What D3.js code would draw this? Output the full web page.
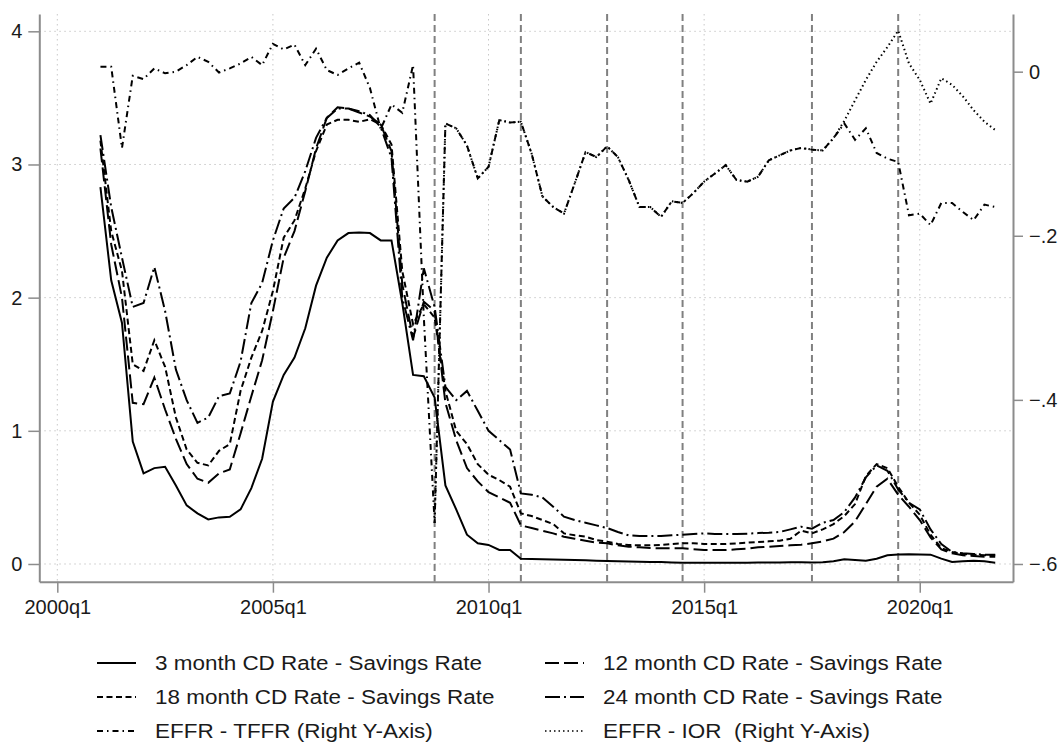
<!DOCTYPE html>
<html>
<head>
  <meta charset="UTF-8">
  <title></title>
  <style>
    body{
      margin: 0;
      background: #fff;
      font-family: 'Liberation Sans', Arial, sans-serif;
    }
    .grid line{
      stroke: #c8c8c8;
      stroke-width: 1;
      stroke-dasharray: 1.5,3.5;
    }
    .refline{
      stroke: #808080;
      stroke-width: 2;
      stroke-dasharray: 7,4;
    }
    .axis path{ stroke: #8c8c8c; stroke-width: 2; }
    .axis line{ stroke: #8c8c8c; stroke-width: 1.5; }
    .axis text{ font-size: 20px; fill: #1a1a1a; font-family: 'Liberation Sans', Arial, sans-serif; }
    .series{ fill: none; stroke: #000; stroke-width: 2; }
    .legend text{ font-size: 21px; fill: #1a1a1a; white-space: pre; }
  </style>
</head>
<body>
  <script src="https://cdnjs.cloudflare.com/ajax/libs/d3/7.8.5/d3.min.js"></script>
  <script>
/// data (quarterly, index 0 = 2000q1; CD series start 2001q1)

var firstQ = 4;
var iorFirstQ = 35;

var cd3m = [2.83, 2.13, 1.81, 0.92, 0.68, 0.72, 0.73, 0.59, 0.44, 0.38,
  0.335, 0.35, 0.355, 0.41, 0.57, 0.79, 1.22, 1.42, 1.55, 1.77,
  2.09, 2.3, 2.43, 2.485, 2.49, 2.485, 2.43, 2.43, 1.96, 1.42,
  1.41, 1.25, 0.59, 0.41, 0.22, 0.155, 0.143, 0.105, 0.105, 0.04,
  0.038, 0.036, 0.034, 0.032, 0.03, 0.028, 0.025, 0.022, 0.02, 0.018,
  0.016, 0.015, 0.014, 0.012, 0.01, 0.01, 0.01, 0.01, 0.01, 0.01,
  0.01, 0.012, 0.012, 0.012, 0.013, 0.013, 0.012, 0.013, 0.02, 0.035,
  0.03, 0.025, 0.04, 0.065, 0.072, 0.073, 0.072, 0.07, 0.04, 0.015,
  0.02, 0.025, 0.02, 0.01];

var cd12m = [3.12, 2.4, 2.0, 1.21, 1.2, 1.4, 1.16, 0.94, 0.75, 0.64,
  0.61, 0.68, 0.71, 0.98, 1.26, 1.53, 1.9, 2.3, 2.5, 2.8,
  3.12, 3.35, 3.43, 3.42, 3.39, 3.36, 3.3, 3.1, 2.1, 1.7,
  1.97, 1.9, 1.21, 0.93, 0.72, 0.62, 0.54, 0.5, 0.46, 0.29,
  0.27, 0.25, 0.23, 0.205, 0.19, 0.175, 0.16, 0.155, 0.14, 0.13,
  0.125, 0.12, 0.118, 0.118, 0.118, 0.11, 0.105, 0.105, 0.105, 0.11,
  0.115, 0.125, 0.13, 0.135, 0.14, 0.145, 0.155, 0.17, 0.19, 0.24,
  0.32, 0.45, 0.58, 0.64, 0.52, 0.43, 0.33, 0.2, 0.11, 0.08,
  0.066, 0.06, 0.055, 0.055];

var cd18m = [3.18, 2.5, 2.2, 1.5, 1.45, 1.68, 1.48, 1.1, 0.86, 0.76,
  0.74, 0.85, 0.9, 1.3, 1.55, 1.75, 2.05, 2.45, 2.58, 2.82,
  3.1, 3.3, 3.335, 3.335, 3.32, 3.34, 3.3, 3.15, 2.2, 1.8,
  1.95, 1.85, 1.3, 1.0, 0.9, 0.75, 0.67, 0.63, 0.58, 0.38,
  0.36, 0.33, 0.3, 0.23, 0.215, 0.205, 0.18, 0.168, 0.15, 0.143,
  0.14, 0.14, 0.143, 0.15, 0.155, 0.155, 0.15, 0.15, 0.15, 0.155,
  0.16, 0.165, 0.17, 0.175, 0.19, 0.25, 0.23, 0.26, 0.3, 0.36,
  0.45, 0.66, 0.75, 0.72, 0.58, 0.46, 0.37, 0.22, 0.12, 0.09,
  0.075, 0.07, 0.065, 0.065];

var cd24m = [3.22, 2.68, 2.3, 1.93, 1.96, 2.23, 1.9, 1.46, 1.23, 1.06,
  1.1, 1.26, 1.28, 1.52, 1.96, 2.11, 2.43, 2.67, 2.75, 2.95,
  3.2, 3.35, 3.42, 3.42, 3.4, 3.37, 3.28, 3.05, 2.0, 1.68,
  2.22, 1.93, 1.33, 1.23, 1.3, 1.15, 1.0, 0.93, 0.86, 0.53,
  0.52, 0.5, 0.43, 0.355, 0.33, 0.31, 0.29, 0.27, 0.24, 0.215,
  0.21, 0.21, 0.21, 0.215, 0.22, 0.225, 0.23, 0.225, 0.225, 0.225,
  0.228, 0.232, 0.235, 0.24, 0.26, 0.28, 0.265, 0.31, 0.33, 0.39,
  0.5, 0.65, 0.74, 0.7, 0.56, 0.46, 0.41, 0.26, 0.15, 0.09,
  0.08, 0.075, 0.07, 0.07];

// right axis series
var effrTffr = [0.006, 0.006, -0.093, -0.005, -0.009, 0.004, -0.002, 0.0, 0.008, 0.018,
  0.012, -0.001, 0.004, 0.010, 0.018, 0.008, 0.034, 0.027, 0.033, 0.008,
  0.028, 0.002, -0.004, 0.004, 0.011, -0.02, -0.07, -0.04, -0.05, 0.008,
  -0.3, -0.55, -0.063, -0.069, -0.09, -0.13, -0.116, -0.059, -0.062, -0.061,
  -0.1, -0.152, -0.165, -0.173, -0.136, -0.098, -0.104, -0.091, -0.104, -0.132,
  -0.165, -0.165, -0.177, -0.158, -0.16, -0.148, -0.134, -0.124, -0.114, -0.132,
  -0.134, -0.128, -0.108, -0.102, -0.096, -0.093, -0.095, -0.096, -0.081, -0.063,
  -0.083, -0.069, -0.099, -0.106, -0.110, -0.175, -0.173, -0.187, -0.16, -0.16,
  -0.171, -0.181, -0.162, -0.165];

var effrIor = [-0.55, -0.063, -0.069, -0.09, -0.13, -0.116, -0.059, -0.062, -0.061,
  -0.1, -0.152, -0.165, -0.173, -0.136, -0.098, -0.104, -0.091, -0.104, -0.132,
  -0.165, -0.165, -0.177, -0.158, -0.16, -0.148, -0.134, -0.124, -0.114, -0.132,
  -0.134, -0.128, -0.108, -0.102, -0.096, -0.093, -0.095, -0.096, -0.081, -0.06,
  -0.035, -0.01, 0.012, 0.03, 0.05, 0.01, -0.01, -0.039, -0.008, -0.016,
  -0.03, -0.047, -0.061, -0.071];

// vertical reference lines (quarter index)
var refQuarters = [35, 43, 51, 58, 70, 78];

var xTicks = [0, 20, 40, 60, 80];
var xTickLabels = ["2000q1", "2005q1", "2010q1", "2015q1", "2020q1"];
var leftTicks = [0, 1, 2, 3, 4];
var rightTicks = [0, -0.2, -0.4, -0.6];

var legendItems = [
  {label: "3 month CD Rate - Savings Rate", dash: null},
  {label: "12 month CD Rate - Savings Rate", dash: "14,5"},
  {label: "18 month CD Rate - Savings Rate", dash: "6,3.5"},
  {label: "24 month CD Rate - Savings Rate", dash: "15,4,2,4"},
  {label: "EFFR - TFFR (Right Y-Axis)", dash: "6,4,1.5,4"},
  {label: "EFFR - IOR  (Right Y-Axis)", dash: "1.5,3"}
];

/// main

var width = 1058, height = 743;
var plot = {left: 39.3, right: 1013, top: 14, bottom: 581.7};

var svg = d3.select("body").append("svg")
    .attr("width", width)
    .attr("height", height);

var x = d3.scaleLinear().domain([-1.67, 88.65]).range([plot.left, plot.right]);
var yL = d3.scaleLinear().domain([-0.133, 4.13]).range([plot.bottom, plot.top]);
var yR = d3.scaleLinear().domain([-0.6216, 0.0703]).range([plot.bottom, plot.top]);

// grid
var grid = svg.append("g").attr("class", "grid");
grid.selectAll(".h").data(leftTicks).enter().append("line")
    .attr("x1", plot.left).attr("x2", plot.right)
    .attr("y1", d => yL(d)).attr("y2", d => yL(d));
grid.selectAll(".v").data(xTicks).enter().append("line")
    .attr("x1", d => x(d)).attr("x2", d => x(d))
    .attr("y1", plot.top).attr("y2", plot.bottom);

// reference lines
svg.append("g").selectAll("line").data(refQuarters).enter().append("line")
    .attr("class", "refline")
    .attr("x1", d => x(d)).attr("x2", d => x(d))
    .attr("y1", plot.top).attr("y2", plot.bottom);

// series
function pts(arr, start) { return arr.map((v, i) => [start + i, v]); }

var lineL = d3.line().x(d => x(d[0])).y(d => yL(d[1]));
var lineR = d3.line().x(d => x(d[0])).y(d => yR(d[1]));

var series = [
  {data: pts(cd3m, firstQ), line: lineL, item: legendItems[0]},
  {data: pts(cd12m, firstQ), line: lineL, item: legendItems[1]},
  {data: pts(cd18m, firstQ), line: lineL, item: legendItems[2]},
  {data: pts(cd24m, firstQ), line: lineL, item: legendItems[3]},
  {data: pts(effrTffr, firstQ), line: lineR, item: legendItems[4]},
  {data: pts(effrIor, iorFirstQ), line: lineR, item: legendItems[5], w: 1.5}
];

svg.append("g").selectAll("path").data(series).enter().append("path")
    .attr("class", "series")
    .attr("d", d => d.line(d.data))
    .attr("stroke-width", d => d.w || 2)
    .attr("stroke", d => d.w ? "#333" : "#000")
    .attr("stroke-dasharray", d => d.item.dash);

// axes
svg.append("g")
    .attr("class", "axis")
    .attr("transform", "translate(" + plot.left + ",0)")
    .call(d3.axisLeft(yL).tickValues(leftTicks).tickSize(11).tickSizeOuter(0).tickPadding(6)
      .tickFormat(d3.format("d")));

svg.append("g")
    .attr("class", "axis")
    .attr("transform", "translate(" + plot.right + ",0)")
    .call(d3.axisRight(yR).tickValues(rightTicks).tickSize(10).tickSizeOuter(0).tickPadding(6)
      .tickFormat(d => d === 0 ? "0" : d3.format(".1f")(d).replace("0.", ".")));

svg.append("g")
    .attr("class", "axis")
    .attr("transform", "translate(0," + plot.bottom + ")")
    .call(d3.axisBottom(x).tickValues(xTicks).tickSize(11).tickSizeOuter(0).tickPadding(7)
      .tickFormat((d, i) => xTickLabels[i]));

svg.selectAll(".axis .domain").attr("stroke-width", 2);

// legend: 3 rows x 2 columns
var colX = [97, 545], rowY = [663, 697, 731];
var legend = svg.append("g").attr("class", "legend");
var li = legend.selectAll("g").data(legendItems).enter().append("g")
    .attr("transform", (d, i) => "translate(" + colX[i % 2] + "," + rowY[Math.floor(i / 2)] + ")");
li.append("line")
    .attr("x1", 0).attr("x2", 39).attr("y1", 0).attr("y2", 0)
    .attr("stroke", "#000")
    .attr("stroke-width", (d, i) => i === 5 ? 1.5 : 2)
    .attr("stroke-dasharray", d => d.dash);
li.append("text")
    .attr("transform", "translate(58,0) scale(1.07,1)")
    .attr("dy", "0.35em")
    .text(d => d.label);

  </script>
</body>
</html>
